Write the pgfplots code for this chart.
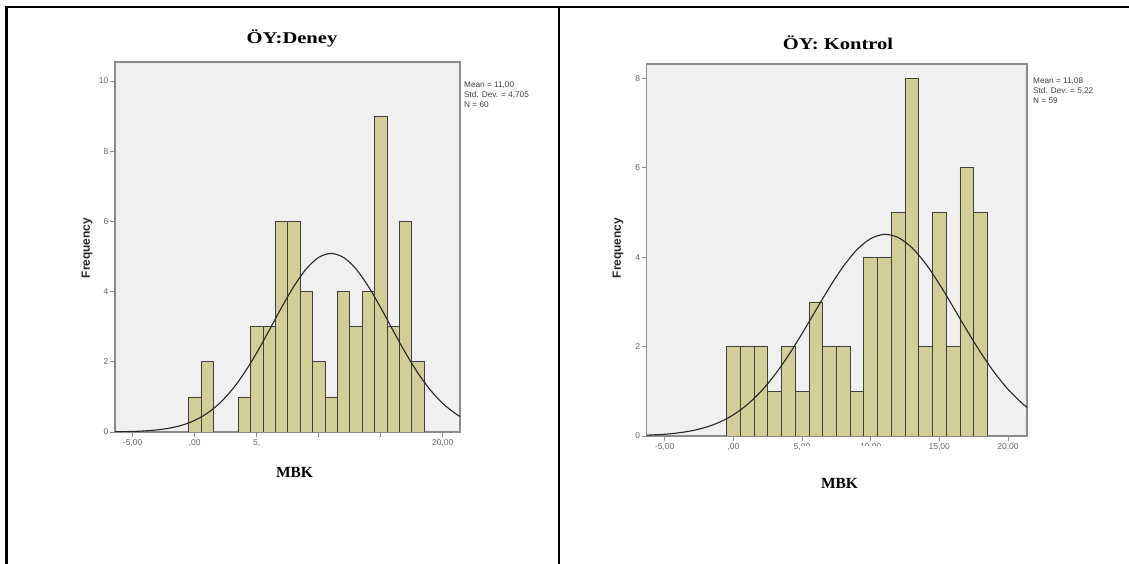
\documentclass[border=0pt]{standalone}
\usepackage{pgfplots}
\pgfplotsset{compat=1.18}
\usepackage{fontspec}
\setmainfont{Liberation Serif}
\newfontfamily\arial{Liberation Sans}
\newfontfamily\titlefont[FakeStretch=1.25]{Liberation Serif}
\definecolor{barfill}{RGB}{211,206,151}
\definecolor{plotbg}{RGB}{240,240,240}
\definecolor{frameg}{RGB}{140,140,140}
\definecolor{tickg}{RGB}{100,100,100}
\pgfplotsset{
  spss/.style={
    scale only axis, anchor=south west,
    axis background/.style={fill=plotbg},
    axis line style={frameg, line width=1.2bp},
    tick align=outside, tick pos=left,
    tick style={frameg, line width=0.8bp},
    major tick length=5bp,
    tick label style={font=\arial\fontsize{8.5}{9}\selectfont, text=tickg},
    xticklabel style={inner sep=2bp},
    yticklabel style={inner sep=1.5bp},
  },
  bars/.style={ybar, bar width=1, bar shift=0, fill=barfill, draw=black!75, line width=0.7bp},
  curve/.style={smooth, black!85, line width=1.1bp, mark=none},
}
\begin{document}
\begin{tikzpicture}
\path[use as bounding box] (0bp,0bp) rectangle (1129bp,564bp);
% table frame
\draw[line width=2.5bp] (5bp,557bp) -- (1129bp,557bp);
\draw[line width=2.5bp] (6.5bp,557bp) -- (6.5bp,0bp);
\draw[line width=2.5bp] (559bp,557bp) -- (559bp,0bp);

% ---------- left: Deney ----------
\begin{axis}[spss, at={(115bp,132bp)}, width=345bp, height=370bp,
  xmin=-6.43, xmax=21.4, ymin=0, ymax=10.54,
  xtick={-5,0,5,10,15,20}, xticklabels={{-5,00},{,00},{5,},{},{},{20,00}},
  ytick={0,2,4,6,8,10}, yticklabels={0,2,4,6,8,10}]
\addplot[bars] coordinates {
 (0,1) (1,2) (4,1) (5,3) (6,3) (7,6) (8,6) (9,4) (10,2) (11,1)
 (12,4) (13,3) (14,4) (15,9) (16,3) (17,6) (18,2)};
\addplot[curve] coordinates {
 (-6.5,0.005) (-5,0.016) (-4,0.032) (-3,0.061) (-2,0.112) (-1,0.197)
 (0,0.331) (1,0.532) (2,0.816) (3,1.199) (4,1.682) (5,2.256) (6,2.892)
 (7,3.544) (8,4.151) (9,4.648) (10,4.973) (11,5.087) (12,4.973) (13,4.648)
 (14,4.151) (15,3.544) (16,2.892) (17,2.256) (18,1.682) (19,1.199)
 (20,0.816) (21,0.532) (21.5,0.422)};
\end{axis}

% ---------- right: Kontrol ----------
\begin{axis}[spss, at={(646.7bp,128bp)}, width=380.3bp, height=372bp,
  xmin=-6.31, xmax=21.39, ymin=0, ymax=8.32,
  xtick={-5,0,5,10,15,20}, xticklabels={{-5,00},{,00},{5,00},{10,00},{15,00},{20,00}},
  ytick={0,2,4,6,8}, yticklabels={0,2,4,6,8}]
\addplot[bars] coordinates {
 (0,2) (1,2) (2,2) (3,1) (4,2) (5,1) (6,3) (7,2) (8,2) (9,1)
 (10,4) (11,4) (12,5) (13,8) (14,2) (15,5) (16,2) (17,6) (18,5)};
\addplot[curve] coordinates {
 (-6.5,0.016) (-5,0.039) (-4,0.070) (-3,0.119) (-2,0.195) (-1,0.310)
 (0,0.474) (1,0.699) (2,0.993) (3,1.361) (4,1.797) (5,2.288) (6,2.808)
 (7,3.322) (8,3.789) (9,4.165) (10,4.414) (11,4.509) (12,4.440) (13,4.214)
 (14,3.856) (15,3.401) (16,2.892) (17,2.370) (18,1.873) (19,1.426)
 (20,1.047) (21,0.741) (21.5,0.615)};
\end{axis}
% white patch hiding part of tick labels, as in the reference
\fill[white] (800bp,102bp) rectangle (892bp,118bp);

% titles
\node[font=\titlefont\bfseries\fontsize{16.5}{19}\selectfont] at (292bp,526bp) {ÖY:Deney};
\node[font=\titlefont\bfseries\fontsize{16.5}{19}\selectfont] at (838bp,521bp) {ÖY: Kontrol};
% x labels
\node[font=\bfseries\fontsize{15.5}{18}\selectfont] at (294.5bp,91.5bp) {MBK};
\node[font=\bfseries\fontsize{15.5}{18}\selectfont] at (839.5bp,81bp) {MBK};
% y labels
\node[rotate=90, font=\arial\bfseries\fontsize{12}{14}\selectfont, text=black!85] at (87bp,316bp) {Frequency};
\node[rotate=90, font=\arial\bfseries\fontsize{12}{14}\selectfont, text=black!85] at (618bp,316bp) {Frequency};
% stats
\node[anchor=north west, align=left, inner sep=0, text=black!75,
  font=\arial\fontsize{8.25}{9.8}\selectfont] at (464bp,482bp) {Mean = 11,00\\Std. Dev. = 4,705\\N = 60};
\node[anchor=north west, align=left, inner sep=0, text=black!75,
  font=\arial\fontsize{8.25}{9.8}\selectfont] at (1033bp,486bp) {Mean = 11,08\\Std. Dev. = 5,22\\N = 59};
\end{tikzpicture}
\end{document}
